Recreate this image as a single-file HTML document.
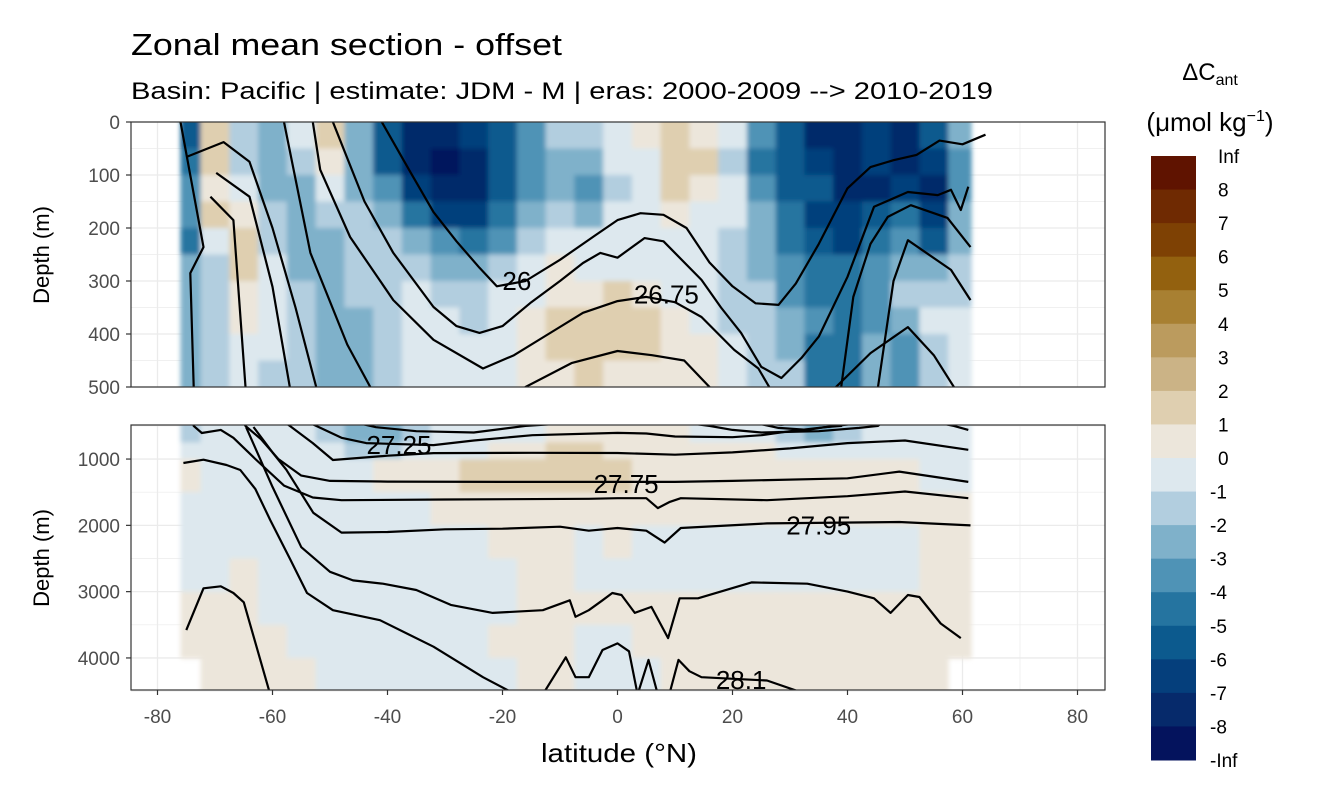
<!DOCTYPE html>
<html><head><meta charset="utf-8"><style>
html,body{margin:0;padding:0;background:#fff;overflow:hidden;width:1344px;height:806px;}
svg{display:block;font-family:"Liberation Sans",sans-serif;}
</style></head><body>
<svg id="chart" width="1344" height="806" viewBox="0 0 1344 806" xmlns="http://www.w3.org/2000/svg">
<defs>
<clipPath id="clipTop"><rect x="131" y="122" width="974" height="265"/></clipPath>
<clipPath id="clipBot"><rect x="131" y="425" width="974" height="265"/></clipPath>
<filter id="soft" x="-5%" y="-5%" width="110%" height="110%"><feGaussianBlur stdDeviation="2.5"/></filter>
</defs>
<text x="131" y="55" font-size="31" textLength="431" lengthAdjust="spacingAndGlyphs" fill="#000">Zonal mean section - offset</text>
<text x="131" y="99" font-size="24" textLength="862" lengthAdjust="spacingAndGlyphs" fill="#000">Basin: Pacific | estimate: JDM - M | eras: 2000-2009 --&gt; 2010-2019</text>
<g id="grid"></g>
<g clip-path="url(#clipTop)"><g id="cellsTop" filter="url(#soft)"></g></g>
<g clip-path="url(#clipBot)"><g id="cellsBot" filter="url(#soft)"></g></g>
<g id="linesTop" clip-path="url(#clipTop)"></g>
<g id="linesBot" clip-path="url(#clipBot)"></g>
<g id="labels"></g>
<rect x="131" y="122" width="974" height="265" fill="none" stroke="#333" stroke-width="1.2"/>
<rect x="131" y="425" width="974" height="265" fill="none" stroke="#333" stroke-width="1.2"/>
<g id="axes"></g>
<text transform="translate(49,255) rotate(-90)" text-anchor="middle" font-size="22">Depth (m)</text>
<text transform="translate(49,558) rotate(-90)" text-anchor="middle" font-size="22">Depth (m)</text>
<text x="619" y="762" text-anchor="middle" font-size="26" textLength="156" lengthAdjust="spacingAndGlyphs">latitude (°N)</text>
<g>
<text x="1210" y="80" text-anchor="middle" font-size="24">ΔC<tspan font-size="16" dy="5">ant</tspan></text>
<text x="1210" y="131" text-anchor="middle" font-size="26">(μmol kg<tspan font-size="16" dy="-10">−1</tspan><tspan dy="10">)</tspan></text>
<g id="legendBins"></g>
</g>
</svg>
<script>
const NS="http://www.w3.org/2000/svg";
// ---- data ----
const colLats=[-75,-70,-65,-60,-55,-50,-45,-40,-35,-30,-25,-20,-15,-10,-5,0,5,10,15,20,25,30,35,40,45,50,55,60];
const topDepthEdges=[0,50,100,150,200,250,300,350,400,450,500];
const botDepthEdges=[500,750,1000,1500,2000,2500,3000,3500,4000,4500];
const topValues=[
[-6,1.5,-2,-3,-1,1.5,-3,-6,-8,-8,-7,-6,-4,-2,-2,-1,0.5,1.5,0.5,-1,-4,-6,-8,-8,-7,-8,-6,-3],
[-5,1.5,-1.5,-3,-2,0.5,-3,-6,-8,-9,-8,-6,-4,-3,-3,-1,-0.5,1.5,1,-1.5,-5,-6,-7,-8,-7,-8,-7,-4],
[-4,0.5,-1,-3,-3,-1,-2.5,-4,-7,-8,-8,-6,-4,-3,-4,-1.5,-0.5,1.5,0.5,-1,-4,-6,-6,-8,-8,-7,-8,-4],
[-4,1,0.5,-2,-3,-2,-2,-3,-5,-7,-7,-5,-3,-2,-3,-1,-0.5,0.5,-0.5,-1,-3,-5,-7,-7,-6,-5,-7,-3],
[-5,-1,1,-1.5,-3,-2.5,-2,-2,-3,-4,-5,-4,-2,-1,-1,-0.5,-0.5,-0.5,-1,-1.5,-3,-5,-6,-7,-5,-4,-6,-3],
[-3,-1.5,1,-1,-2.5,-3,-2,-1.5,-2,-3,-3,-2,-1,0.5,-0.5,-0.5,-0.5,-0.5,-1,-2,-3,-4,-5,-5,-4,-3,-3,-2],
[-3,-2,0.5,-1,-2,-3,-2,-1.5,-1,-2,-2,-1,-0.5,0.5,0.5,1.5,0.5,-0.5,-1,-2,-2,-4,-5,-5,-4,-2,-2,-2],
[-3,-2,0.5,-1,-2,-3,-2.5,-1.5,-1,-1,-1.5,-1,0.5,1,1.5,1.5,1,0.5,-0.5,-1.5,-2,-3,-4,-5,-4,-3,-1,-1],
[-3,-2,-1,-1,-2,-3,-3,-2,-1,-0.5,-1,-0.5,0.5,1,1.5,1,1,0.5,0.5,-1,-1.5,-3,-5,-5,-3,-4,-2,-1],
[-3,-2,-1,-1.5,-2,-3,-3,-2,-1,-0.5,-0.5,-0.5,0.5,0.5,1,0.5,0.5,0.5,0.5,-0.5,-1.5,-2,-5,-5,-3,-4,-2,-1]
];
const botValues=[
[-1.5,-0.5,-0.5,-0.5,-1,-2,-3,-2.5,-2,-1,-0.5,-0.5,-0.5,0.5,0.5,0.5,0.5,0.5,-0.5,-0.5,-1,-2,-3,-2,-1,-0.5,-0.5,-0.5],
[-0.5,-0.5,-0.5,-0.5,-0.5,-1,-1.5,-1.5,-1,-0.5,-0.5,0.5,0.5,1.5,1.5,0.5,0.5,0.5,0.5,0.5,0.5,-0.5,-0.5,-0.5,-0.5,-0.5,-0.5,-0.5],
[0.5,-0.5,-0.5,-0.5,-0.5,-0.5,-0.5,0.5,0.5,0.5,1.5,1.5,1.5,1.5,1.5,1.5,0.5,0.5,0.5,0.5,0.5,0.5,0.5,0.5,0.5,0.5,-0.5,-0.5],
[-0.5,-0.5,-0.5,-0.5,-0.5,-0.5,-0.5,-0.5,-0.5,0.5,0.5,0.5,0.5,0.5,0.5,0.5,0.5,0.5,0.5,0.5,0.5,0.5,0.5,0.5,0.5,0.5,0.5,0.5],
[-0.5,-0.5,-0.5,-0.5,-0.5,-0.5,-0.5,-0.5,-0.5,-0.5,-0.5,0.5,0.5,0.5,-0.5,0.5,-0.5,-0.5,-0.5,-0.5,-0.5,-0.5,-0.5,-0.5,-0.5,-0.5,0.5,0.5],
[-0.5,-0.5,0.5,-0.5,-0.5,-0.5,-0.5,-0.5,-0.5,-0.5,-0.5,-0.5,0.5,0.5,-0.5,-0.5,-0.5,-0.5,-0.5,-0.5,-0.5,-0.5,-0.5,-0.5,-0.5,-0.5,0.5,0.5],
[0.5,0.5,0.5,-0.5,-0.5,-0.5,-0.5,-0.5,-0.5,-0.5,-0.5,-0.5,0.5,0.5,0.5,0.5,0.5,0.5,0.5,0.5,0.5,0.5,0.5,0.5,0.5,0.5,0.5,0.5],
[0.5,0.5,0.5,0.5,-0.5,-0.5,-0.5,-0.5,-0.5,-0.5,-0.5,0.5,0.5,0.5,-0.5,-0.5,0.5,0.5,0.5,0.5,0.5,0.5,0.5,0.5,0.5,0.5,0.5,0.5],
[null,0.5,0.5,0.5,0.5,-0.5,-0.5,-0.5,-0.5,-0.5,-0.5,-0.5,0.5,0.5,-0.5,-0.5,-0.5,0.5,0.5,0.5,0.5,0.5,0.5,0.5,0.5,0.5,0.5,null]
];
// isopycnal lines: latitudes and depths
const isoLats=[
[-41,-36,-32,-28,-24,-21,-16,-10,-4,0,4,8,12,16,20,24,28,31,35,40,44,48,52,56,60,64],
[-49.5,-44,-39,-32,-28,-24,-20,-15,-10,-6,-3,0,4.7,8,14.6,18,21.5,25,28.5,32,35,40,44.6,50.5,55.7,58,59.7,61],
[-53,-51.7,-46.5,-39,-32,-23.4,-18,-12,-6,0,5,10,14.6,20.3,24.5,28,33,36,38.9,41,44,47,51,57.4,61.4],
[-58,-53.4,-47,-42,-35,-25,-16,-8,0,6,11.6,16,20,25,35,42,45.3,48,50.5,58,61.4],
[-75,-68.5,-64,-60,-56,-52.4,-48,-43.7,-32,-25,-14.8,0,5,10,20,25,30,38,44,50.5,55,58.5,61],
[-69.8,-64,-60,-57,-53,-49.5,-40,-32,-15,0,10,20,30,40,50,61],
[-70.8,-66.8,-64.7,-62,-59,-55,-50,-40,-20,0,10,20,40,49,61],
[-76,-72,-74.3,-73.7,-72.3,-69,-66.8,-63,-58,-53,-48,-30,-5,0,5,7,9,11,26,40,50,61],
[-63.3,-60,-57.6,-52.9,-48,-40,-30,-20,-10,-5,0,5,8.2,11,26,49,61.4],
[-64.6,-60,-55,-50,-46,-40.8,-35,-29,-21.7,-13,-8.3,-7.3,-5,-2.6,-0.9,0.7,3,5.9,8.8,10.8,14,23.3,33,40,44.6,47.5,50.5,52.5,56.2,59.7],
[-75.5,-72,-68,-65.6,-63,-60.4,-57,-54,-49.5,-41.3,-32,-23.4,-17.7,-13,-9,-7.3,-5,-2.6,0,2,3.5,5.4,7,9,10.6,12.5,14.6,26,33],
[-75,-72,-69,-66.8,-65,-60.4]
];
const isoDepths=[
[0,95,170,225,275,310,300,260,215,185,172,175,200,265,310,342,345,305,230,125,85,72,62,35,42,24],
[0,150,247,349,385,398,385,340,300,266,247,256,219,225,298,350,398,462,483,445,405,292,160,132,138,128,166,122],
[0,90,217,336,411,465,440,400,360,338,330,340,368,430,465,530,560,520,500,330,230,179,157,181,236],
[0,247,420,520,580,600,500,455,432,440,450,500,560,600,580,530,500,300,223,279,336],
[66,38,75,200,350,500,680,760,790,720,640,605,615,660,670,640,580,500,436,387,440,500,560],
[96,141,311,500,760,1015,950,910,905,908,935,900,840,760,720,860],
[141,185,500,700,1000,1250,1330,1340,1345,1345,1345,1330,1290,1190,1345],
[0,236,285,500,607,560,680,1000,1400,1580,1620,1610,1600,1590,1590,1740,1650,1590,1620,1560,1490,1590],
[516,900,1160,1810,2110,2100,2060,2050,2020,2080,2040,2080,2260,2040,1970,1950,2000],
[520,1420,2330,2700,2830,2880,2975,3200,3320,3280,3130,3380,3280,3130,3020,3050,3320,3230,3700,3100,3100,2860,2880,3000,3100,3320,3050,3080,3480,3700],
[1060,1010,1090,1165,1450,1920,2500,3020,3280,3430,3830,4290,4550,4550,3990,4290,4290,3880,3780,3900,4550,4030,4550,4550,4030,4200,4290,4340,4550],
[3580,2950,2920,3020,3160,4550]
];
const labelTexts=["26","26.75","27.25","27.75","27.95","28.1"];
const labelLats=[-17.5,8.5,-38,1.5,35,21.5];
const labelDepths=[300,325,790,1380,2000,4330];
const legendLabels=["Inf","8","7","6","5","4","3","2","1","0","-1","-2","-3","-4","-5","-6","-7","-8","-Inf"];
const legendColors=["#5f1300","#6f2a02","#7e4104","#93610f","#a88032","#bb9b5e","#cbb386","#dfcfb0","#ece6db","#dde8ee","#b2cedf","#7fb1ca","#4f93b6","#2574a0","#0c5a8e","#053f7c","#062a6b","#04135d"];
const legendBreaks=[9,8,7,6,5,4,3,2,1,0,-1,-2,-3,-4,-5,-6,-7,-8,-9];
const xTicks=[-80,-60,-40,-20,0,20,40,60,80];
const topTicks=[0,100,200,300,400,500];
const botTicks=[1000,2000,3000,4000];

// ---- scales ----
const X=lat=>617.5+lat*5.75;
const YT=d=>122+d*0.53;
const YB=d=>425.9+(d-500)*0.0663;
function colorFor(v){
  for(let i=0;i<18;i++){ if(v>=legendBreaks[i+1]) return legendColors[i]; }
  return legendColors[17];
}
function mk(tag,attrs,parent){const e=document.createElementNS(NS,tag);for(const k in attrs)e.setAttribute(k,attrs[k]);parent.appendChild(e);return e;}

// grid
const grid=document.getElementById('grid');
function gridLines(){
  for(let lat=-90;lat<=90;lat+=10){
    const major=lat%20===0;
    const x=X(lat); if(x<131||x>1105) continue;
    for(const [y0,y1] of [[122,387],[425,690]]){
      const l=mk('line',{x1:x,x2:x,y1:y0,y2:y1,stroke:'#ebebeb','stroke-width':major?1.3:0.7},grid);
      
      
    }
  }
  for(let d=0;d<=500;d+=50){
    const l=mk('line',{x1:131,x2:1105,y1:YT(d),y2:YT(d),stroke:'#ebebeb','stroke-width':d%100===0?1.3:0.7},grid);
    
    
  }
  for(let d=500;d<=4500;d+=500){
    const l=mk('line',{x1:131,x2:1105,y1:YB(d),y2:YB(d),stroke:'#ebebeb','stroke-width':d%1000===0?1.3:0.7},grid);
    
    
  }
}
gridLines();

// cells
function drawCells(values,edges,yf,gid,name){
  const g=document.getElementById(gid);
  values.forEach((row,r)=>{
    row.forEach((v,c)=>{
      if(v===null) return;
      let l0=Math.max(colLats[c]-2.5,-76), l1=Math.min(colLats[c]+2.5,61.5);
      let y0=yf(edges[r]),y1=yf(edges[r+1]);
      if(r===0) y0-=8;
      if(r===values.length-1) y1+=8;
      const x0=X(l0),x1=X(l1);
      const rc=mk('rect',{x:x0,y:y0,width:x1-x0+0.6,height:y1-y0+0.6,fill:colorFor(v)},g);
      
      
    });
  });
}
drawCells(topValues,topDepthEdges,YT,'cellsTop','heat-cell-top');
drawCells(botValues,botDepthEdges,YB,'cellsBot','heat-cell-bottom');

// isopycnals
function drawLines(yf,gid){
  const g=document.getElementById(gid);
  isoLats.forEach((lats,i)=>{
    const pts=lats.map((la,j)=>X(la).toFixed(1)+','+yf(isoDepths[i][j]).toFixed(1)).join(' ');
    const p=mk('polyline',{points:pts,fill:'none',stroke:'#000','stroke-width':2.2,'stroke-linejoin':'round'},g);
    
    
  });
}
drawLines(YT,'linesTop');
drawLines(YB,'linesBot');

// contour labels
const lab=document.getElementById('labels');
labelTexts.forEach((t,i)=>{
  const d=labelDepths[i];
  const y=d<=500?YT(d):YB(d);
  const e=mk('text',{x:X(labelLats[i]),y:y+9,'text-anchor':'middle','font-size':26,fill:'#000'},lab);
  e.textContent=t;
  
  
});

// axes
const ax=document.getElementById('axes');
xTicks.forEach(t=>{
  const x=X(t);
  const tk=mk('line',{x1:x,x2:x,y1:690,y2:695,stroke:'#333','stroke-width':1.2},ax);
  
  
  const e=mk('text',{x:x,y:723,'text-anchor':'middle','font-size':19,fill:'#4d4d4d'},ax);
  e.textContent=t;
  
  
});
topTicks.forEach(t=>{
  const y=YT(t);
  const tk=mk('line',{x1:126,x2:131,y1:y,y2:y,stroke:'#333','stroke-width':1.2},ax);
  
  
  const e=mk('text',{x:120,y:y+7,'text-anchor':'end','font-size':19,fill:'#4d4d4d'},ax);
  e.textContent=t;
  
  
});
botTicks.forEach(t=>{
  const y=YB(t);
  const tk=mk('line',{x1:126,x2:131,y1:y,y2:y,stroke:'#333','stroke-width':1.2},ax);
  
  
  const e=mk('text',{x:120,y:y+7,'text-anchor':'end','font-size':19,fill:'#4d4d4d'},ax);
  e.textContent=t;
  
  
});

// legend
const lg=document.getElementById('legendBins');
const binH=(760-156)/18;
legendColors.forEach((c,i)=>{
  const r=mk('rect',{x:1151,y:156+i*binH,width:45,height:binH+0.5,fill:c},lg);
  
  
});
legendLabels.forEach((t,i)=>{
  const e=mk('text',{x:t.startsWith('-')?1210:1218,y:156+i*binH+7,'font-size':19,fill:'#000'},lg);
  e.textContent=t;
  
  
});
</script>
</body></html>
